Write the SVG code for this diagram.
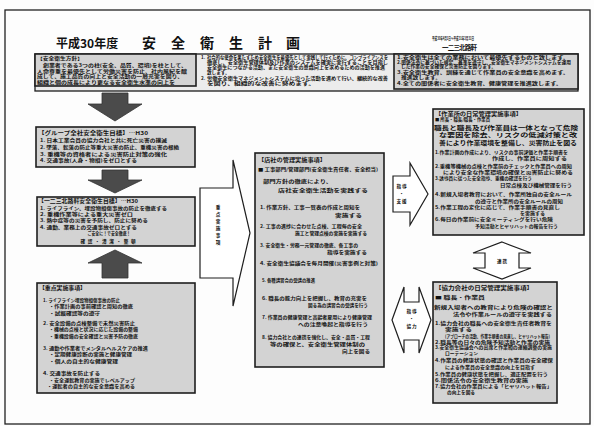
<svg xmlns="http://www.w3.org/2000/svg" width="594" height="426" viewBox="0 0 594 426">
<style>
.bg{fill:#fdfdfd}
.frame{fill:none;stroke:#222;stroke-width:1.3}
.box{fill:#d3d3d3;stroke:#1e1e1e;stroke-width:1.6}
.lite{fill:#ececec;stroke:#1e1e1e;stroke-width:1.3}
.t{font-family:"Noto Sans CJK JP","Noto Sans CJK SC",sans-serif;font-weight:bold;fill:#111;font-size:4.6px}
.h{font-size:5.4px}
.s{font-size:4.2px}
.b{font-size:5.9px}
.ttl{font-family:"Noto Sans CJK JP",sans-serif;font-weight:bold;fill:#111}
.darr{fill:#4b4b4b;stroke:#333;stroke-width:0.8}
.warr{fill:#fff;stroke:#1e1e1e;stroke-width:1.2}
.c{text-anchor:middle}
</style>
<rect class="bg" x="0" y="0" width="594" height="426"/>
<rect class="frame" x="5" y="10" width="585" height="414"/>

<g id="title">
<text class="ttl" x="56" y="48" font-size="12">平成30年度</text>
<text class="ttl" font-size="14" y="48"><tspan x="142">安</tspan><tspan x="171">全</tspan><tspan x="200">衛</tspan><tspan x="229">生</tspan><tspan x="258">計</tspan><tspan x="286">画</tspan></text>
<text class="t s" x="432" y="40" textLength="42" lengthAdjust="spacingAndGlyphs">平成30年4月1日～平成31年3月31日</text>
<text class="ttl" x="442" y="49.5" font-size="6.5" textLength="35" lengthAdjust="spacing">一二三北路軒</text>
</g>

<g id="policy">
<rect class="lite" x="35" y="54" width="543" height="37"/>
<rect class="box" x="35" y="54" width="161" height="32"/>
<rect class="box" x="394" y="54" width="184" height="35"/>
<text class="t" x="37" y="60" textLength="46" lengthAdjust="spacingAndGlyphs">【安全衛生方針】</text>
<text class="t" x="43" y="67" textLength="144" lengthAdjust="spacingAndGlyphs">創業者である3つの柱(安全、品質、環境)を柱として、</text>
<text class="t" x="37" y="72.5" textLength="150" lengthAdjust="spacingAndGlyphs">人命尊重を最優先として労働災害を防止、社内風紀を醸</text>
<text class="t" x="37" y="78" textLength="146" lengthAdjust="spacingAndGlyphs">成して、施工品質の向上と安全活動の一層充実を図り、</text>
<text class="t" x="37" y="83.5" textLength="138" lengthAdjust="spacingAndGlyphs">組織と個の成長により更なる安全衛生水準の向上を</text>

<text class="t" x="201" y="59">1.</text>
<text class="t" x="207" y="59" textLength="181" lengthAdjust="spacingAndGlyphs">社会的な使命を果たすため安全衛生を最優先として実践して行くために、コンプライアンスを</text>
<text class="t" x="207" y="64" textLength="181" lengthAdjust="spacingAndGlyphs">徹底し、安全衛生管理体制及び作業のシステムを確実に実行することを目指し</text>
<text class="t" x="207" y="69" textLength="178" lengthAdjust="spacingAndGlyphs">安全衛生につながる活動、また安全衛生の意識向上を求めるための活動を推進</text>
<text class="t" x="207" y="74">致します。</text>
<text class="t" x="201" y="79.5">2.</text>
<text class="t" x="207" y="79.5" textLength="181" lengthAdjust="spacingAndGlyphs">労働安全衛生マネジメントシステムに沿った活動を進めて行い、継続的な改善</text>
<text class="t" x="207" y="85" textLength="108" lengthAdjust="spacingAndGlyphs">を図り、組織的な改善に努めます。</text>

<text class="t" x="397" y="59" textLength="172" lengthAdjust="spacingAndGlyphs">1.安全衛生は全ての業務において最優先するものと致します。</text>
<text class="t" x="397" y="63.5" textLength="174" lengthAdjust="spacingAndGlyphs">2.関係法令に基づいた規定、基準を遵守し、安全衛生マネジメントシステムを運用</text>
<text class="t" x="401" y="68" textLength="95" lengthAdjust="spacingAndGlyphs">した作業の安全確保と災害防止を図ります。</text>
<text class="t" x="397" y="74" textLength="172" lengthAdjust="spacingAndGlyphs">3.安全衛生教育、訓練を通じて作業員の安全意識を高めます。</text>
<text class="t" x="401" y="78.5" textLength="40" lengthAdjust="spacingAndGlyphs">推進致します。</text>
<text class="t" x="397" y="85" textLength="165" lengthAdjust="spacingAndGlyphs">4.全ての関係者に安全衛生教育、健康管理を推進致します。</text>
</g>

<g id="group-goal">
<rect class="box" x="36" y="127" width="159" height="40"/>
<text class="t h" x="38" y="134.5" textLength="110" lengthAdjust="spacingAndGlyphs">【グループ全社安全衛生目標】…H30</text>
<text class="t" x="40" y="142" textLength="127" lengthAdjust="spacingAndGlyphs">1. 日本工業会員の協力会社と共に死亡災害の撲滅</text>
<text class="t" x="40" y="149" textLength="139" lengthAdjust="spacingAndGlyphs">2. 墜落、転落の防止等重大災害の防止、重機災害の根絶</text>
<text class="t" x="40" y="155.5" textLength="127" lengthAdjust="spacingAndGlyphs">3. 重機等の資格者による災害防止対策の強化</text>
<text class="t" x="40" y="162" textLength="97" lengthAdjust="spacingAndGlyphs">4. 交通事故(人身・物損)をゼロとする</text>
</g>

<g id="company-goal">
<rect class="box" x="37" y="197" width="158" height="49"/>
<text class="t h" x="38" y="203" textLength="100" lengthAdjust="spacingAndGlyphs">【一二三北路軒安全衛生目標】…H30</text>
<text class="t" x="40" y="209.5" textLength="127" lengthAdjust="spacingAndGlyphs">1. ライフライン、埋設物損傷事故の防止を徹底する</text>
<text class="t" x="40" y="215.5" textLength="93" lengthAdjust="spacingAndGlyphs">2. 重機作業等による重大災害ゼロ</text>
<text class="t" x="40" y="222" textLength="108" lengthAdjust="spacingAndGlyphs">3. 熱中症等の災害を予防し、防止に努める</text>
<text class="t" x="40" y="228.5" textLength="97" lengthAdjust="spacingAndGlyphs">4. 通勤、業務上の交通事故ゼロとする</text>
<text class="t c" x="109" y="235" textLength="43" lengthAdjust="spacingAndGlyphs">ご安全に！で安全徹底！</text>
<text class="t c" x="108" y="242.5" font-size="6" textLength="55" lengthAdjust="spacing">確認・清潔・整頓</text>
</g>

<g id="key-items">
<rect class="box" x="37" y="283" width="158" height="110"/>
<text class="t h" x="39" y="289.5" textLength="47" lengthAdjust="spacingAndGlyphs">【重点実施事項】</text>
<text class="t" x="43" y="302" textLength="77" lengthAdjust="spacingAndGlyphs">1. ライフライン埋設物損傷事故の防止</text>
<text class="t" x="49" y="308" textLength="84" lengthAdjust="spacingAndGlyphs">・作業計画の事前確認と周知の徹底</text>
<text class="t" x="49" y="314.5" textLength="51" lengthAdjust="spacingAndGlyphs">・試掘確認等の遵守</text>
<text class="t" x="43" y="325" textLength="92" lengthAdjust="spacingAndGlyphs">2. 安全設備の点検整備で未然災害防止</text>
<text class="t" x="49" y="331" textLength="89" lengthAdjust="spacingAndGlyphs">・機械の点検と状況に応じた設備の整備</text>
<text class="t" x="49" y="337.5" textLength="89" lengthAdjust="spacingAndGlyphs">・重機設備の安全確認と災害予防の徹底</text>
<text class="t" x="43" y="350" textLength="105" lengthAdjust="spacingAndGlyphs">3. 通勤や作業者でメンタルヘルスケアの推進</text>
<text class="t" x="49" y="356" textLength="83" lengthAdjust="spacingAndGlyphs">・定期健康診断の実施と健康管理</text>
<text class="t" x="49" y="363" textLength="69" lengthAdjust="spacingAndGlyphs">・個人の自主的な健康管理</text>
<text class="t" x="43" y="375" textLength="57" lengthAdjust="spacingAndGlyphs">4. 交通事故を防止する</text>
<text class="t" x="49" y="381.5" textLength="86" lengthAdjust="spacingAndGlyphs">・安全運転教育の実施でレベルアップ</text>
<text class="t" x="47" y="388" textLength="88" lengthAdjust="spacingAndGlyphs">・運転者の自主的な安全意識を高める</text>
</g>

<g id="head-office">
<rect class="box" x="255" y="153" width="129" height="214"/>
<text class="t h" x="258" y="162" textLength="68" lengthAdjust="spacingAndGlyphs">【店社の管理実施事項】</text>
<text class="t" x="258" y="171" textLength="120" lengthAdjust="spacingAndGlyphs">■ 工事部門/管理部門(安全衛生責任者、安全担当)</text>
<text class="t" x="263" y="182.5" font-size="6.4" textLength="69" lengthAdjust="spacingAndGlyphs">部門方針の徹底により、</text>
<text class="t" x="278" y="191.5" font-size="6.4" textLength="90" lengthAdjust="spacingAndGlyphs">店社安全衛生活動を実践する</text>
<text class="t" x="260" y="209" textLength="100" lengthAdjust="spacingAndGlyphs">1. 作業方針、工事一覧表の作成と周知を</text>
<text class="t" x="335" y="217" textLength="27" lengthAdjust="spacingAndGlyphs">実施する</text>
<text class="t" x="260" y="228" textLength="102" lengthAdjust="spacingAndGlyphs">2. 工事の進捗に合わせた点検、工程毎の安全</text>
<text class="t" x="295" y="235" textLength="72" lengthAdjust="spacingAndGlyphs">施工と管理点検の実施を実施する</text>
<text class="t" x="260" y="246.5" textLength="98" lengthAdjust="spacingAndGlyphs">3. 安全衛生・労務一元管理の徹底、各工事の</text>
<text class="t" x="327" y="254" textLength="40" lengthAdjust="spacingAndGlyphs">指導を実施する</text>
<text class="t" x="260" y="264.5" textLength="118" lengthAdjust="spacingAndGlyphs">4. 安全衛生協議会を毎月開催(災害事例と対策)</text>
<text class="t" x="262" y="282" textLength="53" lengthAdjust="spacingAndGlyphs">5. 各種講習会の受講の推進</text>
<text class="t" x="262" y="300" textLength="105" lengthAdjust="spacingAndGlyphs">6. 職長の能力向上を把握し、教育の充実を</text>
<text class="t" x="308" y="306.5" textLength="60" lengthAdjust="spacingAndGlyphs">図る為の講習会の受講を行う</text>
<text class="t" x="262" y="319" textLength="110" lengthAdjust="spacingAndGlyphs">7. 作業員の健康管理と高齢者雇用により健康管理</text>
<text class="t" x="298" y="325.5" textLength="70" lengthAdjust="spacingAndGlyphs">への注意喚起と指導を行う</text>
<text class="t" x="262" y="339" textLength="108" lengthAdjust="spacingAndGlyphs">8. 協力会社との連携を強化し、安全・品質・工程</text>
<text class="t" x="270" y="345.5" textLength="95" lengthAdjust="spacingAndGlyphs">等の確保と、安全衛生管理体制の</text>
<text class="t" x="342" y="352.5" textLength="28" lengthAdjust="spacingAndGlyphs">向上を図る</text>
</g>

<g id="site-daily">
<rect class="box" x="433" y="109" width="151" height="126"/>
<text class="t h" x="435" y="115.5" textLength="87" lengthAdjust="spacingAndGlyphs">【作業所の日常管理実施事項】</text>
<text class="t s" x="435" y="121" textLength="55" lengthAdjust="spacingAndGlyphs">■ 所長・職長/職長・作業員</text>
<text class="t b" x="434" y="129.5" textLength="144" lengthAdjust="spacingAndGlyphs">職長と職長及び作業員は一体となって危険</text>
<text class="t b" x="439" y="137" textLength="138" lengthAdjust="spacingAndGlyphs">な要因を除去、リスクの低減対策と改</text>
<text class="t b" x="439" y="144.5" textLength="138" lengthAdjust="spacingAndGlyphs">善により作業環境を整備し、災害防止を図る</text>
<text class="t s" x="435" y="154" textLength="133" lengthAdjust="spacingAndGlyphs">1.作業計画の作成により、リスクの事前評価と作業手順書を</text>
<text class="t s" x="492" y="159.5" textLength="75" lengthAdjust="spacingAndGlyphs">作成し、作業員に周知する</text>
<text class="t s" x="435" y="168" textLength="137" lengthAdjust="spacingAndGlyphs">2.重機等機械の点検と作業前のチェックと作業員への周知</text>
<text class="t s" x="443" y="174" textLength="130" lengthAdjust="spacingAndGlyphs">により安全な作業環境の確保と災害防止に努める</text>
<text class="t s" x="435" y="179.5" textLength="97" lengthAdjust="spacingAndGlyphs">3.誘導員に従った安全指導、重機の確認を行う</text>
<text class="t s" x="500" y="186.5" textLength="72" lengthAdjust="spacingAndGlyphs">日常点検及び機械管理を行う</text>
<text class="t s" x="435" y="195.5" textLength="137" lengthAdjust="spacingAndGlyphs">4.新規入場者教育において、作業所独自の安全ルール</text>
<text class="t s" x="475" y="203" textLength="88" lengthAdjust="spacingAndGlyphs">の遵守と作業所の安全ルールの周知</text>
<text class="t s" x="435" y="208.5" textLength="125" lengthAdjust="spacingAndGlyphs">5.作業工程の変化に応じて、作業手順書の見直し</text>
<text class="t s" x="520" y="214.5" textLength="25" lengthAdjust="spacingAndGlyphs">を実施する</text>
<text class="t s" x="435" y="220.5" textLength="118" lengthAdjust="spacingAndGlyphs">6.毎日の作業前に安全ミーティングを行い危険</text>
<text class="t s" x="475" y="227.5" textLength="83" lengthAdjust="spacingAndGlyphs">予知活動とヒヤリハットの報告を行う</text>
</g>

<g id="partner-daily">
<rect class="box" x="433" y="282" width="124" height="121"/>
<text class="t h" x="435" y="289.5" textLength="98" lengthAdjust="spacingAndGlyphs">【協力会社の日常管理実施事項】</text>
<text class="t s" x="435" y="299" textLength="50" lengthAdjust="spacingAndGlyphs">■ 職長・作業員</text>
<text class="t" font-size="5.8" x="434" y="309" textLength="119" lengthAdjust="spacingAndGlyphs">新規入場者への教育により危険の確認と</text>
<text class="t" font-size="5.8" x="453" y="316" textLength="99" lengthAdjust="spacingAndGlyphs">法令や作業ルールの遵守を実践する</text>
<text class="t s" x="435" y="325" textLength="117" lengthAdjust="spacingAndGlyphs">1.協力会社の職長への安全衛生責任者教育を</text>
<text class="t s" x="445" y="331" textLength="27" lengthAdjust="spacingAndGlyphs">実施する</text>
<text class="t" font-size="3.6" x="445" y="337.5" textLength="105" lengthAdjust="spacingAndGlyphs">(アプローチの活動、作業手順書の見直し、ヒヤリハット報告)</text>
<text class="t s" x="435" y="343.5" textLength="115" lengthAdjust="spacingAndGlyphs">2.職長等の日々の危険予知活動と作業の実施</text>
<text class="t s" x="435" y="349" textLength="117" lengthAdjust="spacingAndGlyphs">3.安全衛生協議会への出席と作業間の連絡調整の実施</text>
<text class="t s" x="445" y="355" textLength="33" lengthAdjust="spacingAndGlyphs">ローテーション</text>
<text class="t s" x="435" y="362" textLength="118" lengthAdjust="spacingAndGlyphs">4.作業員の健康状態の確認と作業員の安全確保</text>
<text class="t s" x="445" y="368.5" textLength="90" lengthAdjust="spacingAndGlyphs">による作業員の安全意識の向上を目指す</text>
<text class="t s" x="435" y="375.5" textLength="113" lengthAdjust="spacingAndGlyphs">5.作業員の健康状態を把握し、適正配置を行う</text>
<text class="t s" x="435" y="381.5" textLength="93" lengthAdjust="spacingAndGlyphs">6.関係法令の安全衛生教育の実施</text>
<text class="t s" x="435" y="387.5" textLength="117" lengthAdjust="spacingAndGlyphs">7.協力会社の作業員による「ヒヤリハット報告」</text>
<text class="t s" x="447" y="394" textLength="28" lengthAdjust="spacingAndGlyphs">の向上を図る</text>
</g>

<g id="connectors">
<polygon class="darr" points="102,93 128,93 128,104 142,104 115,121 88,104 102,104"/>
<polygon class="darr" points="102,170 128,170 128,180 142,180 115,193 88,180 102,180"/>
<polygon class="darr" points="115,250 142,263 128,263 128,278 102,278 102,263 88,263"/>

<polygon class="warr" points="200,188 233,188 233,160 250,233 233,306 233,278 200,278"/>
<text class="t c" font-size="6" x="218"><tspan x="218" y="209">重</tspan><tspan x="218" y="216">点</tspan><tspan x="218" y="223">実</tspan><tspan x="218" y="230">施</tspan><tspan x="218" y="237">事</tspan><tspan x="218" y="244">項</tspan></text>

<polygon class="warr" points="393,176 410,176 410,163 428,194 410,225 410,212 393,212"/>
<text class="t c" font-size="5" x="401.5" y="188">指 導</text>
<text class="t c" font-size="5" x="401.5" y="195">・</text>
<text class="t c" font-size="5" x="401.5" y="203">支 援</text>

<polygon class="warr" points="392,320 404,287 404,302 419,302 419,287 431,320 419,353 419,340 404,340 404,353"/>
<text class="t c" font-size="5" x="411.5" y="313">指 導</text>
<text class="t c" font-size="5" x="411.5" y="320">・</text>
<text class="t c" font-size="5" x="411.5" y="328">協 力</text>

<polygon class="warr" points="502,242 531,253 519,253 519,268 531,268 502,279 473,268 485,268 485,253 473,253"/>
<text class="t c" font-size="5" x="502" y="263">連 携</text>
</g>
</svg>
